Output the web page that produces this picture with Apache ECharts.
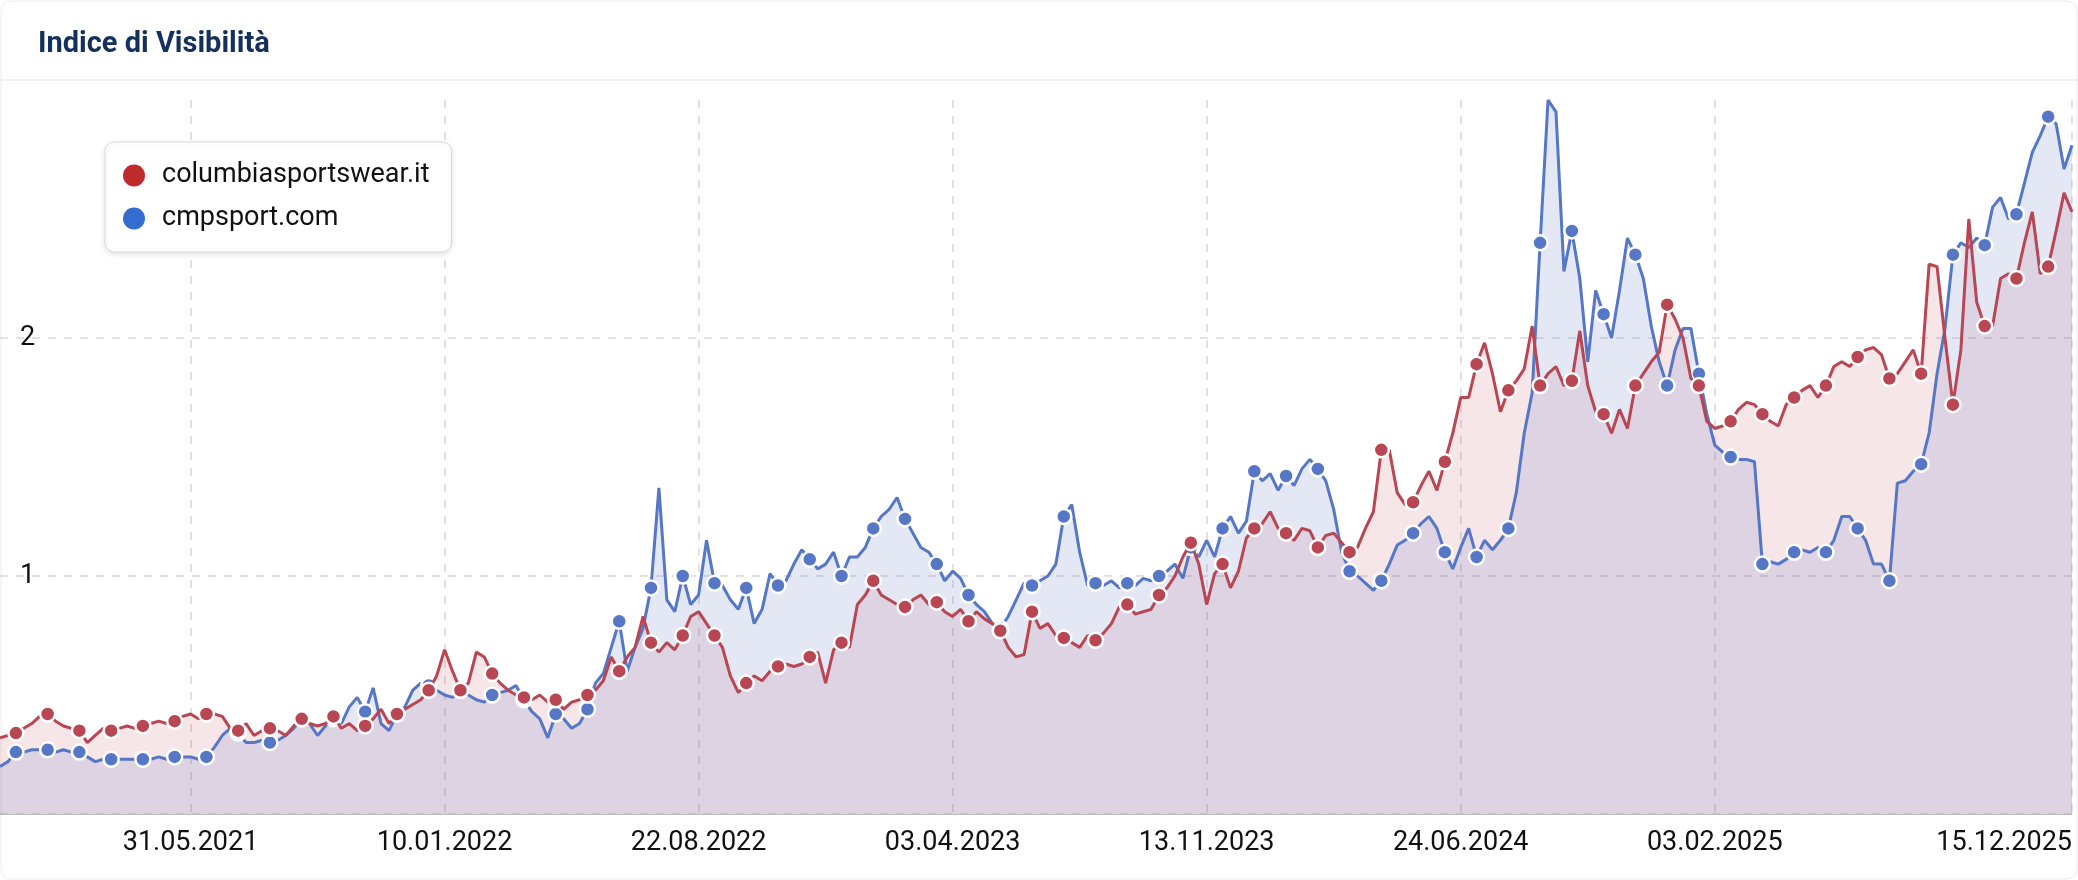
<!DOCTYPE html>
<html><head><meta charset="utf-8">
<script src="https://cdn.jsdelivr.net/npm/echarts@6/dist/echarts.min.js"></script>
<style>html,body{margin:0;padding:0;background:#fff}#c{width:2078px;height:880px}</style>
</head><body><div id="c"></div>
<script>
const startDate = '2020-12-14';
const weeks = 262;
const tickLabels = ['31.05.2021','10.01.2022','22.08.2022','03.04.2023','13.11.2023','24.06.2024','03.02.2025','15.12.2025'];
const columbia = [
.32,.33,.34,.36,.38,.41,.42,.39,.37,.36,
.35,.30,.33,.36,.35,.36,.37,.36,.37,.38,
.39,.38,.39,.41,.42,.40,.42,.42,.41,.36,
.35,.38,.33,.35,.36,.35,.33,.37,.40,.38,
.37,.38,.41,.36,.38,.35,.37,.40,.44,.38,
.42,.44,.46,.48,.52,.58,.69,.60,.52,.55,.68,
.66,.59,.55,.52,.50,.49,.48,.50,.47,.48,
.44,.47,.48,.50,.52,.56,.66,.60,.66,.70,
.83,.72,.68,.72,.69,.75,.83,.85,.80,.75,
.70,.58,.51,.55,.58,.56,.60,.62,.63,.62,
.63,.66,.68,.55,.69,.72,.70,.88,.92,.98,
.92,.90,.88,.87,.90,.92,.88,.89,.85,.83,.86,
.81,.85,.82,.80,.77,.70,.66,.67,.85,.78,
.80,.75,.74,.72,.70,.75,.73,.76,.80,.87,
.88,.84,.85,.86,.92,.95,1.00,1.08,1.14,1.05,
.88,1.01,1.05,.95,1.02,1.16,1.20,1.22,1.27,1.20,
1.18,1.15,1.20,1.19,1.12,1.17,1.18,1.14,1.10,1.12,1.20,
1.27,1.53,1.53,1.35,1.30,1.31,1.38,1.44,1.36,1.48,
1.60,1.75,1.75,1.89,1.98,1.85,1.69,1.78,1.82,1.87,
2.05,1.80,1.85,1.88,1.80,1.82,2.03,1.80,1.69,1.68,
1.60,1.70,1.62,1.80,1.85,1.90,1.94,2.14,2.08,2.00,
1.83,1.80,1.65,1.62,1.63,1.65,1.70,1.73,1.72,1.68,
1.65,1.63,1.72,1.75,1.78,1.80,1.75,1.80,1.88,1.90,
1.88,1.92,1.95,1.96,1.93,1.83,1.85,1.90,1.95,1.85,2.31,
2.30,2.00,1.72,1.95,2.50,2.15,2.05,2.05,2.25,2.27,
2.25,2.40,2.53,2.27,2.30,2.45,2.61,2.53];
const cmpsport = [
.20,.22,.26,.26,.27,.27,.27,.26,.27,.26,
.26,.24,.22,.23,.23,.23,.23,.23,.23,.23,
.24,.23,.24,.24,.24,.23,.24,.28,.33,.36,
.34,.30,.30,.31,.30,.31,.33,.36,.40,.38,
.33,.37,.40,.38,.45,.49,.43,.53,.38,.35,
.42,.45,.52,.55,.54,.52,.50,.49,.52,.50,.48,
.47,.50,.51,.52,.54,.48,.43,.40,.32,.42,
.40,.36,.38,.44,.55,.59,.70,.81,.60,.70,
.78,.95,1.37,.90,.85,1.00,.88,.92,1.15,.97,
.96,.90,.86,.95,.80,.86,1.01,.96,.98,1.05,
1.11,1.07,1.03,1.05,1.10,1.00,1.08,1.08,1.12,1.20,
1.25,1.28,1.33,1.24,1.18,1.12,1.10,1.05,.98,1.02,.99,
.92,.88,.85,.80,.78,.83,.90,.97,.96,.98,
1.00,1.05,1.25,1.30,1.10,.96,.97,.96,.98,.95,
.97,.96,.99,.98,1.00,1.02,1.05,.99,1.12,1.08,
1.15,1.08,1.20,1.25,1.18,1.23,1.44,1.40,1.43,1.36,
1.42,1.38,1.45,1.49,1.45,1.40,1.28,1.10,1.02,1.00,.97,
.94,.98,1.05,1.13,1.15,1.18,1.22,1.25,1.20,1.10,
1.03,1.12,1.20,1.08,1.15,1.11,1.15,1.20,1.35,1.60,
1.77,2.40,3.00,2.95,2.28,2.45,2.25,1.90,2.20,2.10,
2.00,2.20,2.42,2.35,2.25,2.05,1.90,1.80,1.95,2.04,
2.04,1.85,1.68,1.55,1.52,1.50,1.49,1.49,1.48,1.05,
1.06,1.05,1.07,1.10,1.11,1.10,1.12,1.10,1.15,1.25,
1.25,1.20,1.15,1.05,1.05,.98,1.39,1.40,1.44,1.47,1.60,
1.85,2.04,2.35,2.40,2.38,2.42,2.39,2.55,2.59,2.50,
2.52,2.65,2.78,2.85,2.93,2.90,2.71,2.81];

const cats = [];
const d0 = new Date(startDate + 'T00:00:00Z');
for (let i = 0; i < weeks; i++) {
  const d = new Date(d0.getTime() + i * 7 * 86400000);
  cats.push(String(d.getUTCDate()).padStart(2,'0') + '.' + String(d.getUTCMonth()+1).padStart(2,'0') + '.' + d.getUTCFullYear());
}
const showTick = (i, v) => tickLabels.indexOf(v) >= 0;
const sym = (v, p) => (p.dataIndex % 4 === 2 ? 'circle' : 'none');
const RED = '#b84653', BLUE = '#5577c6';

const chart = echarts.init(document.getElementById('c'));
chart.setOption({
  animation: false,
  title: { text: 'Indice di Visibilità', left: 33, top: 25,
    textStyle: { fontFamily: 'Roboto', fontWeight: 'bold', fontSize: 29, color: '#14305c' } },
  graphic: [
    { type: 'rect', shape: { x: 1, y: 1, width: 2076, height: 878, r: 10 }, style: { fill: 'none', stroke: '#ececec', lineWidth: 1 }, z: -1 },
    { type: 'line', shape: { x1: 0, y1: 80, x2: 2078, y2: 80 }, style: { stroke: '#ececec', lineWidth: 1.5 } }
  ],
  legend: {
    orient: 'vertical', left: 105, top: 142, padding: [20, 22, 20, 18], itemGap: 16,
    backgroundColor: '#fff', borderColor: '#d8d8d8', borderWidth: 1, borderRadius: 9,
    shadowBlur: 6, shadowColor: 'rgba(0,0,0,0.12)', shadowOffsetY: 2,
    icon: 'circle', itemWidth: 22, itemHeight: 22,
    textStyle: { fontFamily: 'Roboto', fontSize: 27, color: '#111', padding: [0, 0, 0, 12] },
    data: [
      { name: 'columbiasportswear.it', itemStyle: { color: '#bf2a2d', borderWidth: 0 } },
      { name: 'cmpsport.com', itemStyle: { color: '#356ccf', borderWidth: 0 } }
    ]
  },
  grid: { left: 0, right: 6, top: 100, bottom: 66, containLabel: false, outerBoundsMode: 'none' },
  xAxis: {
    type: 'category', data: cats, boundaryGap: false,
    axisLine: { lineStyle: { color: '#bbb' } },
    axisTick: { show: false },
    axisLabel: { interval: showTick, alignMaxLabel: 'right', fontFamily: 'Roboto', fontSize: 27, color: '#111', margin: 16 },
    splitLine: { show: true, interval: showTick, lineStyle: { color: '#d9d9d9', type: [8, 8], width: 1.5 } }
  },
  yAxis: {
    type: 'value', min: 0, max: 3, interval: 1,
    axisLine: { show: false }, axisTick: { show: false },
    axisLabel: { inside: true, fontFamily: 'Roboto', fontSize: 27, color: '#111', margin: 20, verticalAlign: 'middle',
      formatter: v => (v === 1 || v === 2 ? String(v) : '') },
    splitLine: { showMaxLine: false, lineStyle: { color: '#d9d9d9', type: [8, 8], width: 1.5 } }
  },
  series: [
    { name: 'columbiasportswear.it', type: 'line', data: columbia, symbol: 'none', silent: true,
      lineStyle: { width: 0 }, itemStyle: { color: RED }, areaStyle: { color: 'rgba(184,70,83,0.19)' }, z: 1 },
    { name: 'cmpsport.com', type: 'line', data: cmpsport, symbol: 'none', silent: true,
      lineStyle: { width: 0 }, itemStyle: { color: BLUE }, areaStyle: { color: 'rgba(80,105,190,0.22)' }, z: 1 },
    { name: 'cmpsport.com', type: 'line', data: cmpsport, symbol: sym, symbolSize: 15, showAllSymbol: true,
      lineStyle: { color: BLUE, width: 3 }, itemStyle: { color: BLUE, borderColor: '#fff', borderWidth: 2.5 }, z: 3 },
    { name: 'columbiasportswear.it', type: 'line', data: columbia, symbol: sym, symbolSize: 15, showAllSymbol: true,
      lineStyle: { color: RED, width: 3 }, itemStyle: { color: RED, borderColor: '#fff', borderWidth: 2.5 }, z: 4 }
  ]
});
</script></body></html>
